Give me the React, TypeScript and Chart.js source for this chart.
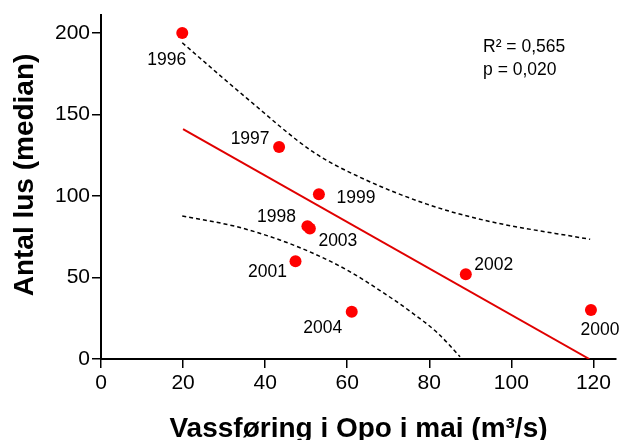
import React, { useEffect, useRef } from "react";
import { Chart, registerables } from "chart.js";

Chart.register(...registerables);

// ---- data ----
const years = ["1996", "1997", "1998", "1999", "2000", "2001", "2002", "2003", "2004"];
const flow = [19.8, 43.4, 50.3, 53.1, 119.4, 47.4, 88.9, 50.9, 61.1];
const lice = [200, 130, 81.5, 101, 30, 60, 52, 80, 29];

const fitX = [20, 119];
const fitY = [141, 0];

const upperX = [19.8, 35.5, 51.7, 63.1, 79.4, 93.6, 119.2];
const upperY = [194, 160, 127, 111.5, 95, 85, 73.4];

const lowerX = [19.8, 33, 43.6, 52, 60, 68, 76, 82, 87.5];
const lowerY = [87.7, 81.2, 73, 64.5, 54.5, 42, 28, 16, 1.4];

const xTickStep = 20;
const yTickStep = 50;
const xMax = 125.5;
const yMax = 211;

const statLines = ["R\u00B2 = 0,565", "p = 0,020"];
const xTitle = "Vassf\u00F8ring i Opo i mai (m\u00B3/s)";
const yTitle = "Antal lus (median)";

// label offsets (pixels, centre-x / baseline relative to point)
const labelDx = [-15.5, -29, -31, 37, 9, -28, 28, 28, -29];
const labelDy = [32, -3.4, -3.7, 8.4, 25, 15.7, -4, 17, 21];

const FONT = "'Liberation Sans', Arial, Helvetica, sans-serif";

const pts = (xs: number[], ys: number[]) => xs.map((x, i) => ({ x, y: ys[i] }));

const overlayPlugin = {
  id: "overlay",
  afterDatasetsDraw(chart: any) {
    const ctx = chart.ctx;
    const xs = chart.scales.x;
    const ys = chart.scales.y;
    ctx.save();
    ctx.fillStyle = "#000";
    ctx.font = `17.5px ${FONT}`;
    ctx.textAlign = "center";
    ctx.textBaseline = "alphabetic";
    years.forEach((yr, i) => {
      const px = xs.getPixelForValue(flow[i]);
      const py = ys.getPixelForValue(lice[i]);
      ctx.fillText(yr, px + labelDx[i], py + labelDy[i]);
    });
    // stats
    ctx.textAlign = "left";
    const sx = xs.getPixelForValue(93.1);
    const sy = ys.getPixelForValue(188.3);
    statLines.forEach((t, i) => ctx.fillText(t, sx, sy + i * 23));
    // axis titles
    ctx.font = `bold 28px ${FONT}`;
    ctx.textAlign = "center";
    ctx.fillText(xTitle, (chart.chartArea.left + chart.chartArea.right) / 2, 437);
    ctx.translate(33, 175);
    ctx.rotate(-Math.PI / 2);
    ctx.fillText(yTitle, 0, 0);
    ctx.restore();
  },
};

export default function App() {
  const ref = useRef<HTMLCanvasElement | null>(null);
  useEffect(() => {
    document.body.style.margin = "0";
    const canvas = ref.current!;
    const chart = new Chart(canvas, {
      type: "scatter",
      data: {
        datasets: [
          {
            data: pts(upperX, upperY),
            showLine: true,
            borderColor: "#000",
            borderWidth: 1.5,
            borderDash: [4, 3],
            pointRadius: 0,
            cubicInterpolationMode: "monotone",
          } as any,
          {
            data: pts(lowerX, lowerY),
            showLine: true,
            borderColor: "#000",
            borderWidth: 1.5,
            borderDash: [4, 3],
            pointRadius: 0,
            cubicInterpolationMode: "monotone",
          } as any,
          {
            data: pts(fitX, fitY),
            showLine: true,
            borderColor: "#e00000",
            borderWidth: 2,
            pointRadius: 0,
          } as any,
          {
            data: pts(flow, lice),
            pointRadius: 6,
            pointBackgroundColor: "#ff0000",
            pointBorderWidth: 0,
            borderWidth: 0,
          } as any,
        ],
      },
      options: {
        responsive: false,
        animation: false,
        layout: { padding: { top: 15, right: 7, left: 0, bottom: 0 } },
        plugins: { legend: { display: false }, tooltip: { enabled: false } },
        scales: {
          x: {
            type: "linear",
            min: 0,
            max: xMax,
            afterFit: (s: any) => {
              s.height = 81;
            },
            ticks: {
              stepSize: xTickStep,
              includeBounds: false,
              color: "#000",
              font: { family: FONT, size: 21 },
              padding: 3,
              maxRotation: 0,
            },
            grid: { drawOnChartArea: false, drawTicks: true, tickLength: 9, color: "#000", lineWidth: 1.5 },
            border: { display: true, color: "#000", width: 2 },
          },
          y: {
            type: "linear",
            min: 0,
            max: yMax,
            afterFit: (s: any) => {
              s.width = 101;
            },
            ticks: {
              stepSize: yTickStep,
              includeBounds: false,
              color: "#000",
              font: { family: FONT, size: 21 },
              padding: 2,
            },
            grid: { drawOnChartArea: false, drawTicks: true, tickLength: 9, color: "#000", lineWidth: 1.5 },
            border: { display: true, color: "#000", width: 2 },
          },
        },
      } as any,
      plugins: [overlayPlugin],
    });
    return () => chart.destroy();
  }, []);
  return (
    <div style={{ width: 623, height: 440, background: "#fff" }}>
      <canvas ref={ref} width={623} height={440} style={{ display: "block" }} />
    </div>
  );
}
